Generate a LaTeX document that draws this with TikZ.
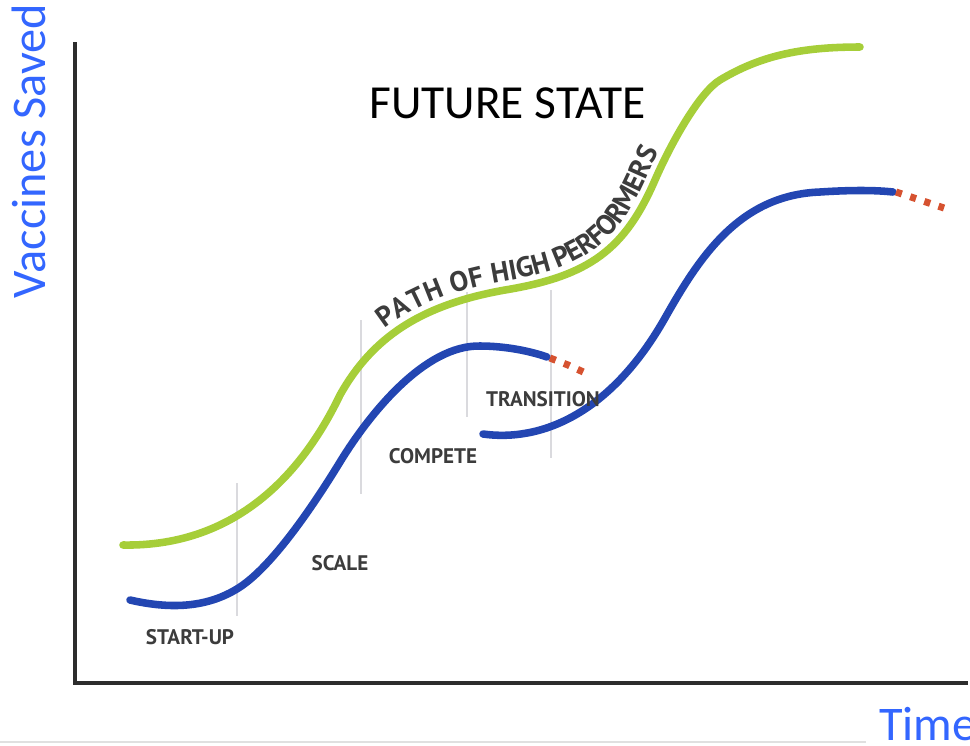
\documentclass[tikz,border=0pt]{standalone}
\usepackage{fontspec}
\setmainfont{Carlito}
\newfontfamily\stagefont{PT Sans}
\usetikzlibrary{decorations.text}
\definecolor{axisblue}{RGB}{51,102,255}
\definecolor{highgreen}{RGB}{166,206,57}
\definecolor{curveblue}{RGB}{35,70,178}
\definecolor{dotred}{RGB}{214,82,48}
\definecolor{stagegrey}{RGB}{60,60,60}
\definecolor{dividergrey}{RGB}{218,218,222}
\definecolor{axisgrey}{RGB}{45,45,45}
\tikzset{
	curve/.style={line width=4.3pt, line cap=round},
	fadedots/.style={line width=4pt, dash pattern=on 3.5pt off 5pt, draw=dotred},
	stage/.style={font=\stagefont\bfseries\fontsize{12}{12}\selectfont, text=stagegrey, inner sep=0pt},
	divider/.style={draw=dividergrey, line width=0.8pt},
	axislabel/.style={font=\fontsize{27.5}{30}\selectfont, text=axisblue, inner sep=0pt}
}

\begin{document}
\begin{tikzpicture}[x=0.02cm, y=-0.02cm]
			\useasboundingbox (0,0) rectangle (970,745);
			
			% axes
			\coordinate (top) at (75,42);
			\coordinate (origin) at (75,683);
			\coordinate (right) at (968,683);
			\draw[axisgrey, line width=2.2pt] (top) -- (origin) -- (right);
			\draw[black!12, line width=0.8pt] (0,742) -- (866,742);
			
			\node (vaccines) [axislabel, rotate=90] at (29,151) {Vaccines Saved};
			\node (time) [axislabel, anchor=base west] at (879,740) {Time};
			\node (future) [anchor=base west, inner sep=0pt, font=\fontsize{27}{30}\selectfont] at (369,118) {FUTURE STATE};
			
			% stage dividers
			\draw[divider] (237,483) -- (237,616);
			\draw[divider] (361,320) -- (361,494);
			\draw[divider] (467,292) -- (467,417);
			\draw[divider] (551,290) -- (551,458);
			
			% path of high performers
			\draw[curve, highgreen] (123,545) .. controls (240,547) and (305,468) .. (340,395)
				.. controls (372,338) and (420,305) .. (505,290)
				.. controls (590,276) and (625,249) .. (655,180)
				.. controls (672,141) and (700,92) .. (720,80)
				.. controls (760,56) and (800,47) .. (860,47);
			\path[decorate, decoration={text along path, text align={left indent=44pt}, raise=5pt,
				text={|\stagefont\bfseries\fontsize{16}{16}\selectfont\color{stagegrey}|PATH OF HIGH PERFORMERS}}]
				(340,395) .. controls (372,338) and (420,305) .. (505,290)
				.. controls (590,276) and (625,249) .. (655,180)
				.. controls (672,141) and (700,92) .. (720,80);
			
			% first curve
			\draw[curve, curveblue] (130,600) .. controls (165,608) and (205,610) .. (240,587)
				.. controls (275,564) and (318,498) .. (340,462)
				.. controls (370,413) and (425,345) .. (480,346)
				.. controls (505,346) and (530,351) .. (547,357);
			\draw[fadedots] (550,358) -- (568,365) -- (590,375);
			
			% second curve
			\draw[curve, curveblue] (483,434) .. controls (540,442) and (610,415) .. (665,318)
				.. controls (700,256) and (740,195) .. (820,192)
				.. controls (850,190) and (875,190) .. (893,192);
			\draw[fadedots] (896,192) -- (920,200) -- (944,208);
			
			\node (startup) [stage] at (190,637) {START-UP};
			\node (scale) [stage] at (340,563) {SCALE};
			\node (compete) [stage] at (433,456) {COMPETE};
			\node (transition) [stage] at (543,399) {TRANSITION};
		\end{tikzpicture}
\end{document}
